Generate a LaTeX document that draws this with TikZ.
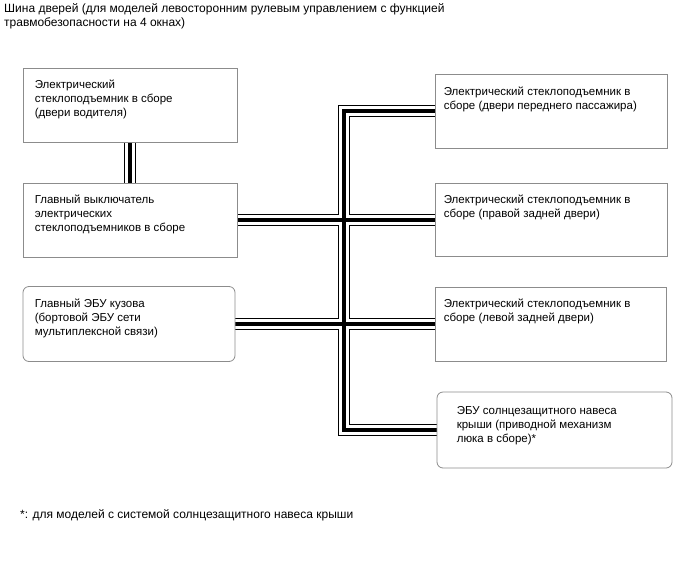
\documentclass[tikz,border=0pt]{standalone}
\usepackage{fontspec}
\setmainfont{Liberation Sans}
\pgfdeclarelayer{bg}
\pgfsetlayers{bg,main}
\definecolor{boxgray}{gray}{0.55}
\newcommand{\fsz}{\fontsize{11.5}{14}\selectfont}
\newcommand{\fst}{\fontsize{12}{14}\selectfont}
\begin{document}
\begin{tikzpicture}[x=1pt,y=-1pt,
  box/.style={draw=boxgray, fill=white, line width=0.8pt, inner sep=0pt},
  rbox/.style={box, rounded corners=6pt},
  txt/.style={anchor=north west, align=left, inner sep=0pt, font=\fsz, text=black},
  busouter/.style={draw=black, line width=12pt},
  buswhite/.style={draw=white, line width=10pt},
  buscore/.style={draw=black, line width=4pt}]
\useasboundingbox (0,0) rectangle (688,560);

\node[txt, font=\fst] (title) at (4,3) {Шина дверей (для моделей левосторонним рулевым управлением с функцией\\травмобезопасности на 4 окнах)};

\node[box, minimum width=214, minimum height=74,
  label={[txt, xshift=12, yshift=-12]north west:{Электрический\\стеклоподъемник в сборе\\(двери водителя)}}] (drv) at (130,105) {};
\node[box, minimum width=214, minimum height=74,
  label={[txt, xshift=12, yshift=-12]north west:{Главный выключатель\\электрических\\стеклоподъемников в сборе}}] (sw) at (130,220) {};
\node[rbox, minimum width=212, minimum height=75,
  label={[txt, xshift=12, yshift=-13]north west:{Главный ЭБУ кузова\\(бортовой ЭБУ сети\\мультиплексной связи)}}] (ecu) at (129,324) {};

\node[box, minimum width=232, minimum height=74,
  label={[txt, xshift=9, yshift=-13]north west:{Электрический стеклоподъемник в\\сборе (двери переднего пассажира)}}] (r1) at (551,111) {};
\node[box, minimum width=232, minimum height=73,
  label={[txt, xshift=9, yshift=-12]north west:{Электрический стеклоподъемник в\\сборе (правой задней двери)}}] (r2) at (551,220) {};
\node[box, minimum width=231, minimum height=74,
  label={[txt, xshift=9, yshift=-12]north west:{Электрический стеклоподъемник в\\сборе (левой задней двери)}}] (r3) at (550.5,324) {};
\node[rbox, minimum width=235, minimum height=76,
  label={[txt, xshift=20, yshift=-15]north west:{ЭБУ солнцезащитного навеса\\крыши (приводной механизм\\люка в сборе)*}}] (r4) at (554.5,430) {};

\coordinate (trunk) at (344,0);

\begin{pgfonlayer}{bg}
\fill[white] (0,0) rectangle (688,560);
\foreach \st in {busouter,buswhite,buscore}{
  \draw[\st] (drv.south) -- (sw.north);
  \draw[\st] (sw.east) -- (r2.west);
  \draw[\st] (ecu.east) -- (r3.west);
  \draw[\st] (r1.west) -- (r1.west -| trunk) -- (r4.west -| trunk) -- (r4.west);
}
\end{pgfonlayer}

\node[txt, font=\fst] (note) at (20,509) {*: для моделей с системой солнцезащитного навеса крыши};
\end{tikzpicture}
\end{document}
